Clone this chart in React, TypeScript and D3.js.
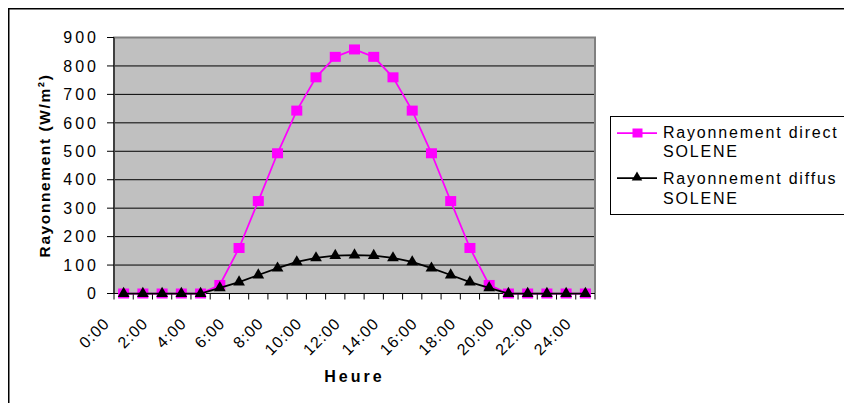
import React from "react";
import * as d3 from "d3";

const categories = [
  "0:00", "1:00", "2:00", "3:00", "4:00", "5:00", "6:00", "7:00", "8:00", "9:00",
  "10:00", "11:00", "12:00", "13:00", "14:00", "15:00", "16:00", "17:00", "18:00",
  "19:00", "20:00", "21:00", "22:00", "23:00", "24:00",
];
const directValues = [0, 0, 0, 0, 0, 30, 160, 325, 493, 643, 760, 832, 858, 832, 760, 643, 493, 325, 160, 30, 0, 0, 0, 0, 0];
const diffusValues = [0, 0, 0, 0, 0, 20, 40, 65, 89, 111, 125, 133, 135, 133, 125, 111, 89, 65, 40, 20, 0, 0, 0, 0, 0];
const yTicks = [0, 100, 200, 300, 400, 500, 600, 700, 800, 900];
const directName = ["Rayonnement direct", "SOLENE"];
const diffusName = ["Rayonnement diffus", "SOLENE"];
const yTitle = "Rayonnement (W/m²)";
const xTitle = "Heure";

const FONT = "Arial, 'Liberation Sans', sans-serif";
const PINK = "#FF00FF";

export default function App() {
  // page coordinates (svg translated by -8,-8)
  const plot = { left: 114, right: 595, top: 37.5, bottom: 293.5 };
  const x = d3.scaleBand<string>().domain(categories).range([plot.left, plot.right]).padding(0);
  const y = d3.scaleLinear().domain([0, 900]).range([plot.bottom, plot.top]);
  const cx = (c: string) => (x(c) as number) + x.bandwidth() / 2;

  const line = d3
    .line<number>()
    .x((_, i) => cx(categories[i]))
    .y((d) => y(d));

  const tri = d3.symbol(d3.symbolTriangle, 60)() as string;
  const boundaries = [...categories.map((c) => x(c) as number), plot.right];

  const legendX = 610.5;
  const legendY = 116.5;

  return (
    <div style={{ width: 844, height: 395, overflow: "hidden" }}>
      <svg width={900} height={450} style={{ display: "block" }}>
        <g transform="translate(-8,-8)">
          <rect x={8} y={8} width={1000} height={1000} fill="white" />
          <rect x={8.75} y={8.75} width={1000} height={1000} fill="none" stroke="#000" strokeWidth={1.5} />

          {/* plot area */}
          <rect x={plot.left} y={plot.top} width={plot.right - plot.left} height={plot.bottom - plot.top} fill="#C0C0C0" />
          {yTicks.filter((t) => t > 0).map((t) => (
            <line key={t} x1={plot.left} x2={plot.right} y1={y(t)} y2={y(t)} stroke="#000" strokeWidth={1} />
          ))}
          <path
            d={`M${plot.left},${plot.bottom}V${plot.top}H${plot.right}V${plot.bottom}`}
            fill="none"
            stroke="#808080"
            strokeWidth={2}
          />
          {/* y axis */}
          <line x1={plot.left} x2={plot.left} y1={plot.top} y2={plot.bottom} stroke="#000" strokeWidth={1} />
          {yTicks.map((t) => (
            <g key={t}>
              <line x1={plot.left - 7} x2={plot.left} y1={y(t)} y2={y(t)} stroke="#000" strokeWidth={1} />
              <text
                x={99}
                y={y(t)}
                dy="0.36em"
                textAnchor="end"
                fontFamily={FONT}
                fontSize={16}
                letterSpacing={3}
                fill="#000"
              >
                {t}
              </text>
            </g>
          ))}
          {/* x axis */}
          <line x1={plot.left} x2={plot.right} y1={plot.bottom} y2={plot.bottom} stroke="#000" strokeWidth={1} />
          {boundaries.map((b, i) => (
            <line key={i} x1={b} x2={b} y1={plot.bottom} y2={plot.bottom + 6} stroke="#000" strokeWidth={1} />
          ))}
          {categories.map((c, i) =>
            i % 2 === 0 ? (
              <text
                key={c}
                transform={`translate(${cx(c) - 13},${plot.bottom + 31}) rotate(-45)`}
                textAnchor="end"
                fontFamily={FONT}
                fontSize={16}
                letterSpacing={1}
                fill="#000"
              >
                {c}
              </text>
            ) : null
          )}

          {/* series */}
          <path d={line(directValues) as string} fill="none" stroke={PINK} strokeWidth={1.75} />
          {directValues.map((v, i) => (
            <rect key={i} x={cx(categories[i]) - 5.5} y={y(v) - 5} width={11} height={10} fill={PINK} />
          ))}
          <path d={line(diffusValues) as string} fill="none" stroke="#000" strokeWidth={1.75} />
          {diffusValues.map((v, i) => (
            <path key={i} d={tri} transform={`translate(${cx(categories[i])},${y(v)})`} fill="#000" />
          ))}

          {/* axis titles */}
          <text
            x={(plot.left + plot.right) / 2}
            y={382}
            textAnchor="middle"
            fontFamily={FONT}
            fontWeight="bold"
            fontSize={16}
            letterSpacing={3}
            fill="#000"
          >
            {xTitle}
          </text>
          <text
            transform={`translate(50,${(plot.top + plot.bottom) / 2}) rotate(-90)`}
            textAnchor="middle"
            fontFamily={FONT}
            fontWeight="bold"
            fontSize={15.5}
            letterSpacing={1.6}
            fill="#000"
          >
            {yTitle}
          </text>

          {/* legend */}
          <rect x={legendX} y={legendY} width={400} height={98} fill="white" stroke="#000" strokeWidth={1} />
          <line x1={617} x2={657} y1={133} y2={133} stroke={PINK} strokeWidth={1.75} />
          <rect x={632.5} y={128.5} width={10} height={9} fill={PINK} />
          <text fontFamily={FONT} fontSize={16} letterSpacing={1.8} fill="#000">
            <tspan x={663} y={138}>{directName[0]}</tspan>
            <tspan x={663} y={157}>{directName[1]}</tspan>
          </text>
          <line x1={617} x2={657} y1={178} y2={178} stroke="#000" strokeWidth={1.75} />
          <path d={d3.symbol(d3.symbolTriangle, 48)() as string} transform="translate(637,177.5)" fill="#000" />
          <text fontFamily={FONT} fontSize={16} letterSpacing={1.8} fill="#000">
            <tspan x={663} y={184}>{diffusName[0]}</tspan>
            <tspan x={663} y={204}>{diffusName[1]}</tspan>
          </text>
        </g>
      </svg>
    </div>
  );
}
